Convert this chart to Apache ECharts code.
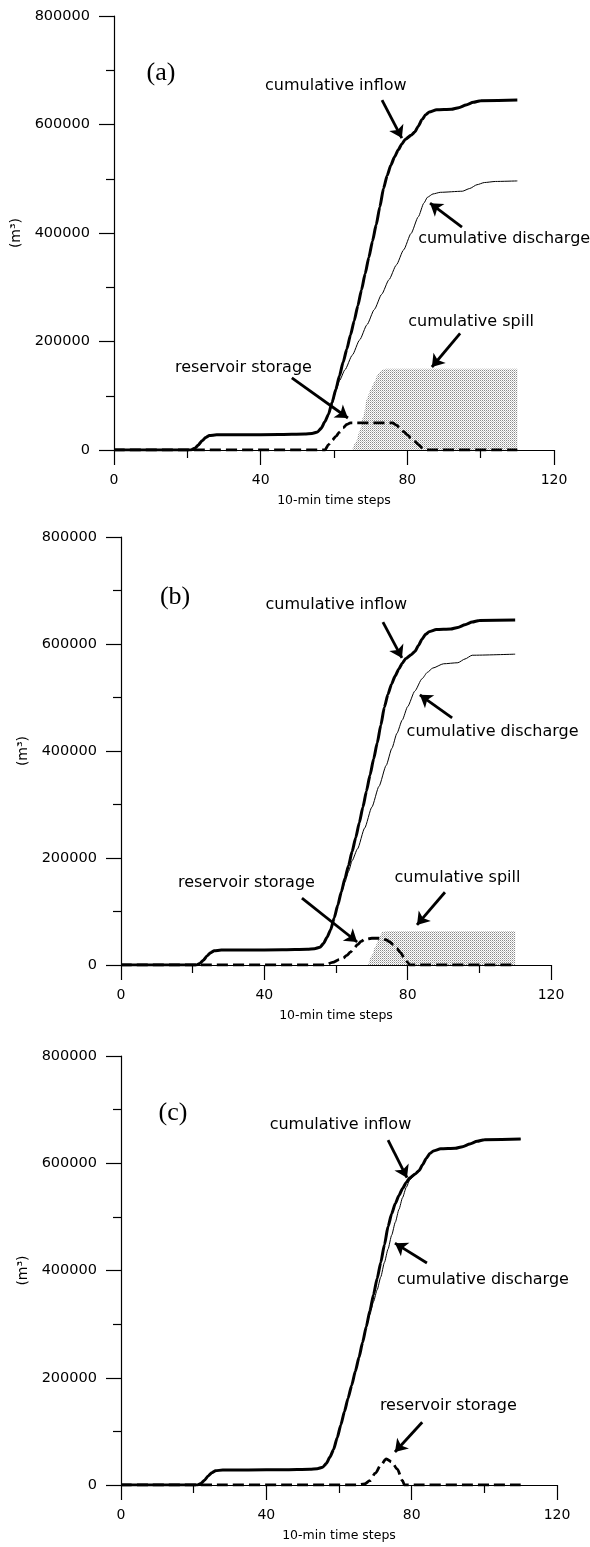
<!DOCTYPE html>
<html>
<head>
<meta charset="utf-8">
<title>Cumulative inflow / discharge / spill</title>
<script src="https://cdn.jsdelivr.net/npm/echarts@6/dist/echarts.min.js"></script>
<style>
  html, body { margin: 0; padding: 0; background: #fff; }
  #main { width: 590px; height: 1547px; }
</style>
</head>
<body>
<div id="main"></div>
<script>
// [10-min time step, volume m3]
var inflow = [[0,0],[21,0],[22,3000],[23,9000],[24,17000],[25,23000],[26,26500],[28,28000],[35,28000],[45,28500],[52,29500],[54,30500],[55.5,33000],[56.5,40000],[57.5,52000],[58.5,66000],[59.5,88000],[60.5,112000],[61.5,137000],[62.5,162000],[63.5,186000],[64.5,212000],[65.5,238000],[66.5,266000],[67.5,295000],[68.5,325000],[69.5,355000],[70.5,385000],[71.5,415000],[72.5,448000],[73.5,482000],[74.5,506000],[75.5,525000],[76.5,540000],[77.5,553000],[78.5,564000],[79.5,573000],[81,580000],[82,586000],[83,597000],[84,609000],[85,618000],[86,623000],[88,627000],[92,628000],[94,631000],[96,636000],[98,641000],[100,644000],[110,645000]];

var dischargeA = [[0,0],[21,0],[22,3000],[23,9000],[24,17000],[25,23000],[26,26500],[28,28000],[35,28000],[45,28500],[52,29500],[54,30500],[55.5,33000],[56.5,40000],[57.5,52000],[58.5,66000],[59.5,85000],[60.5,108000],[61.5,128000],[63,148000],[65,175000],[67,203000],[69,231000],[71,259000],[73,287000],[75,314000],[77,341000],[79,369000],[81,399000],[83,430000],[84.5,455000],[85.5,466000],[87,472000],[89,475000],[95,477000],[97,482000],[99,489000],[101,493000],[104,495000],[110,496000]];
var dischargeB = [[0,0],[21,0],[22,3000],[23,9000],[24,17000],[25,23000],[26,26500],[28,28000],[35,28000],[45,28500],[52,29500],[54,30500],[55.5,33000],[56.5,40000],[57.5,52000],[58.5,66000],[59.5,88000],[60.5,112000],[61.5,135000],[62.5,155000],[63.5,175000],[64.5,195000],[66,217000],[68,256000],[70,295000],[72,334000],[74,373000],[75.6,405000],[77,433000],[78.5,458000],[80,483000],[82,512000],[84,535000],[85.5,547000],[87,555000],[90,563000],[94,565000],[96,572000],[98,579000],[110,581000]];
var dischargeC = [[0,0],[21,0],[22,3000],[23,9000],[24,17000],[25,23000],[26,26500],[28,28000],[35,28000],[45,28500],[52,29500],[54,30500],[55.5,33000],[56.5,40000],[57.5,52000],[58.5,66000],[59.5,88000],[60.5,112000],[61.5,137000],[62.5,162000],[63.5,186000],[64.5,212000],[65.5,238000],[66.5,266000],[67.5,295000],[68.5,318000],[69.5,342000],[70.5,364000],[71.5,388000],[72.5,415000],[73.5,440000],[74.5,466000],[75.5,490000],[76.5,514000],[77.5,536000],[78.5,555000],[79.5,569000],[81,580000],[82,586000],[83,597000],[84,609000],[85,618000],[86,623000],[88,627000],[92,628000],[94,631000],[96,636000],[98,641000],[100,644000],[110,645000]];

var storageA = [[0,0],[57.5,0],[58.5,10000],[59.5,18000],[60.5,25000],[61.5,33000],[62.5,41000],[63.5,47000],[64.5,50000],[76,50000],[77,46000],[78,40000],[79,34000],[80,28000],[81,22000],[82,16000],[83,10000],[84,4000],[85,0],[110,0]];
var storageB = [[0,0],[57,0],[59,5000],[61,10000],[62,13000],[63,18000],[64,24000],[65,31000],[66,38000],[67,44000],[68,48000],[70,50000],[72.5,50000],[74,47000],[75,43000],[76,38000],[77,31000],[78,23000],[79,14000],[80,5000],[80.5,0],[110,0]];
var storageC = [[0,0],[65,0],[67,2000],[68.5,8000],[70,22000],[71.5,37000],[73,48500],[74.5,43000],[76,30000],[77.5,8000],[78,0],[110,0]];

var spillA = [[65,0],[66,15000],[67,35000],[68,62000],[69,95000],[70,112000],[71,125000],[72,140000],[73,147000],[74,150000],[110,150000]];
var spillB = [[69,0],[70,18000],[71,35000],[72,52000],[73,62000],[74,63500],[110,63500]];

// annotation texts: [text, step, volume]
var notesA = [['(a)',12.8,695000],['cumulative inflow',60.5,672000],['cumulative discharge',106.4,390000],['cumulative spill',97.4,236000],['reservoir storage',35.3,151000]];
var notesB = [['(b)',15.1,688000],['cumulative inflow',60.1,673000],['cumulative discharge',103.7,435000],['cumulative spill',93.9,162000],['reservoir storage',35.0,153000]];
var notesC = [['(c)',14.3,694000],['cumulative inflow',60.4,671000],['cumulative discharge',99.6,382000],['reservoir storage',90.1,147000]];
// arrows: [fromStep, fromVol, toStep, toVol]
var arrowsA = [[73.1,645000,78.5,575000],[94.9,411000,86.2,455000],[94.4,215000,86.7,153000],[48.5,133000,63.8,59000]];
var arrowsB = [[73.1,641000,78.4,574000],[92.4,462000,83.4,505000],[90.4,136000,82.6,75000],[50.5,125000,65.9,43000]];
var arrowsC = [[73.5,643000,78.7,573000],[84.2,414000,75.4,451000],[82.9,117000,75.4,61500]];

var grids = [
    {left: 114, top: 16, width: 440, height: 434},
    {left: 121, top: 537, width: 430, height: 428},
    {left: 121, top: 1056, width: 436, height: 429}
];

var FONT = 'DejaVu Sans';

//dotted fill for the spill area
function dotPattern() {
    var c = document.createElement('canvas');
    c.width = 2; c.height = 2;
    var ctx = c.getContext('2d');
    ctx.fillStyle = '#fff'; ctx.fillRect(0, 0, 2, 2);
    ctx.fillStyle = '#8a8a8a'; ctx.fillRect(0, 0, 1, 1);
    ctx.fillStyle = '#c4c4c4'; ctx.fillRect(1, 1, 1, 1);
    return {image: c, repeat: 'repeat'};
}

function xAxisFor(i) {
    return {
        type: 'value', gridIndex: i, min: 0, max: 120, interval: 40,
        name: '10-min time steps', nameLocation: 'middle', nameGap: 44,
        nameTextStyle: {color: '#000', fontSize: 12.5, fontFamily: FONT},
        axisLine: {lineStyle: {color: '#000', width: 1.2}},
        axisTick: {length: 15, lineStyle: {color: '#000', width: 1.2}},
        minorTick: {show: true, splitNumber: 2, length: 8, lineStyle: {color: '#000', width: 1.2}},
        axisLabel: {color: '#000', fontSize: 14, fontFamily: FONT, margin: 23},
        splitLine: {show: false}
    };
}

function yAxisFor(i) {
    return {
        type: 'value', gridIndex: i, min: 0, max: 800000, interval: 200000,
        name: '(m³)', nameLocation: 'middle', nameGap: i == 0 ? 82 : 86,
        nameTextStyle: {color: '#000', fontSize: 14, fontFamily: FONT},
        axisLine: {show: true, lineStyle: {color: '#000', width: 1.2}},
        axisTick: {show: true, length: 15, lineStyle: {color: '#000', width: 1.2}},
        minorTick: {show: true, splitNumber: 2, length: 8, lineStyle: {color: '#000', width: 1.2}},
        axisLabel: {color: '#000', fontSize: 14.5, fontFamily: FONT, margin: 24, formatter: function (v) { return String(v); }},
        splitLine: {show: false}
    };
}

function panelSeries(i, spill, storage, discharge, notes, arrows) {
    var out = [];
    if (spill) {
        out.push({
            type: 'line', xAxisIndex: i, yAxisIndex: i, data: spill,
            showSymbol: false, lineStyle: {width: 0}, smooth: 0.3, smoothMonotone: 'x',
            areaStyle: {color: dotPattern(), opacity: 1}, z: 1
        });
    }
    out.push({
        type: 'line', xAxisIndex: i, yAxisIndex: i, data: storage,
        showSymbol: false, smooth: 0.3, smoothMonotone: 'x',
        lineStyle: {color: '#000', width: 2.8, type: [11, 5]}, z: 2
    });
    out.push({
        type: 'line', xAxisIndex: i, yAxisIndex: i, data: discharge,
        showSymbol: false, smooth: 0.2, smoothMonotone: 'x',
        lineStyle: {color: '#000', width: 1}, z: 3
    });
    out.push({
        type: 'line', xAxisIndex: i, yAxisIndex: i, data: inflow,
        showSymbol: false, smooth: 0.2, smoothMonotone: 'x',
        lineStyle: {color: '#000', width: 3}, z: 4,
        markLine: {
            silent: true, symbol: ['none', 'arrow'], symbolSize: 12,
            lineStyle: {color: '#000', width: 2.8, type: 'solid'},
            label: {show: false},
            data: arrows.map(function (a) {
                return [{coord: [a[0], a[1]]}, {coord: [a[2], a[3]]}];
            })
        },
        markPoint: {
            silent: true, symbol: 'circle', symbolSize: 1,
            itemStyle: {color: 'rgba(0,0,0,0)'},
            label: {show: true, position: 'inside', formatter: '{b}', color: '#000', fontSize: 16, fontFamily: FONT},
            data: notes.map(function (n) {
                var item = {name: n[0], coord: [n[1], n[2]]};
                if (n[0].charAt(0) == '(') {
                    item.label = {fontFamily: 'Liberation Serif', fontSize: 26};
                }
                return item;
            })
        }
    });
    return out;
}

var chart = echarts.init(document.getElementById('main'));
var option = {
    animation: false,
    backgroundColor: '#fff',
    grid: grids,
    xAxis: [xAxisFor(0), xAxisFor(1), xAxisFor(2)],
    yAxis: [yAxisFor(0), yAxisFor(1), yAxisFor(2)],
    series: [].concat(
        panelSeries(0, spillA, storageA, dischargeA, notesA, arrowsA),
        panelSeries(1, spillB, storageB, dischargeB, notesB, arrowsB),
        panelSeries(2, null, storageC, dischargeC, notesC, arrowsC)
    )
};
chart.setOption(option);
</script>
</body>
</html>
